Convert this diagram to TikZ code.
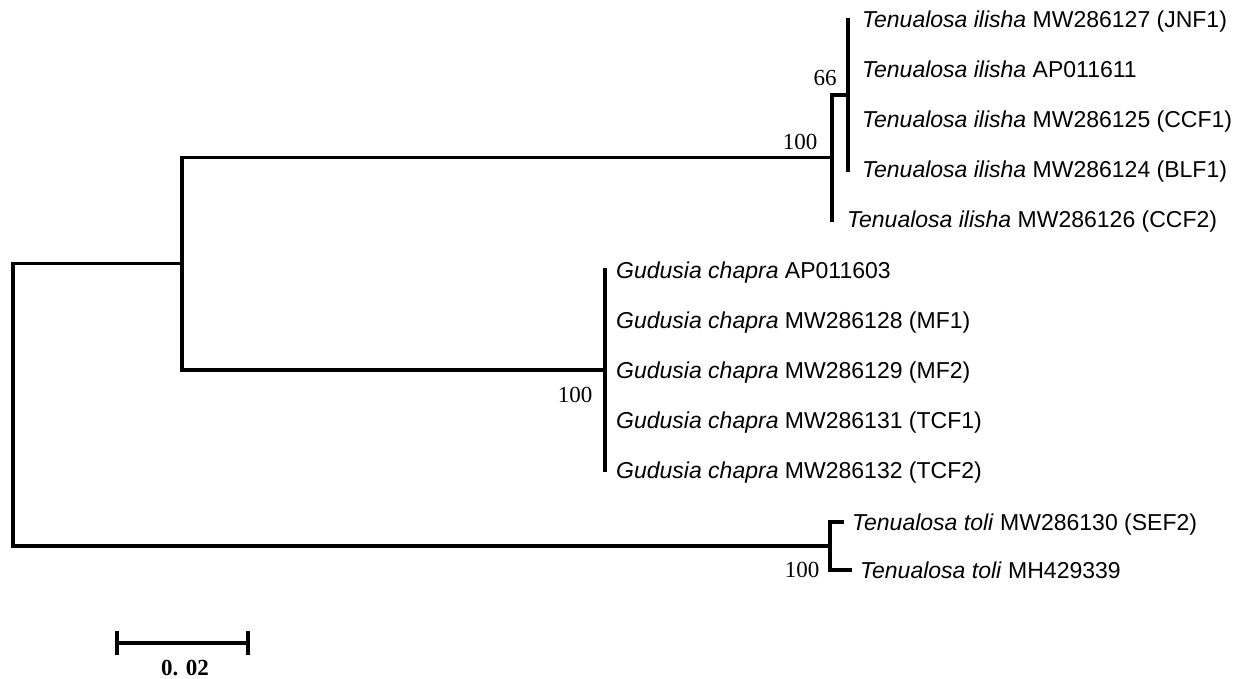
\documentclass[tikz,border=0pt]{standalone}
\usepackage{fontspec}
\setmainfont{Liberation Sans}
\newfontfamily\numfont{Liberation Serif}
\usetikzlibrary{calc}
\tikzset{
  branch/.style={line width=3.2pt, line join=miter, line cap=rect},
  lbl/.style={inner sep=0pt, anchor=base west, font=\fontsize{23}{26}\selectfont},
  boot/.style={inner sep=0pt, font=\numfont\fontsize{23}{26}\selectfont},
}
\begin{document}
\begin{tikzpicture}[x=1pt,y=-1pt]
\useasboundingbox (0,0) rectangle (1234,679);
% internal nodes
\coordinate (root) at (13,404.5);
\coordinate (n1) at (182,263.75);
\coordinate (nT) at (832,157.5);
\coordinate (nT2) at (848,95);
\coordinate (nG) at (605,370);
\coordinate (nTo) at (830,546);
% tips
\coordinate (t1) at (848,20);
\coordinate (t2) at (848,70);
\coordinate (t3) at (848,120);
\coordinate (t4) at (848,170);
\coordinate (t5) at (832,220);
\coordinate (g1) at (605,270);
\coordinate (g2) at (605,320);
\coordinate (g3) at (605,370);
\coordinate (g4) at (605,420);
\coordinate (g5) at (605,470);
\coordinate (s1) at (842,522);
\coordinate (s2) at (850,570);
% branches
\draw[branch] (root) |- (n1);
\draw[branch] (root) |- (nTo);
\draw[branch] (n1) |- (nT);
\draw[branch] (n1) |- (nG);
\draw[branch] (nT) |- (nT2);
\draw[branch] (nT) |- (t5);
\draw[branch] (nT2) |- (t1);
\draw[branch] (nT2) |- (t4);
\draw[branch] (nG) |- (g1);
\draw[branch] (nG) |- (g5);
\draw[branch] (nTo) |- (s1);
\draw[branch] (nTo) |- (s2);
% labels
\node[lbl] (L1) at ($(t1)+(14,8)$) {\textit{Tenualosa ilisha} MW286127 (JNF1)};
\node[lbl] (L2) at ($(t2)+(14,8)$) {\textit{Tenualosa ilisha} AP011611};
\node[lbl] (L3) at ($(t3)+(14,8)$) {\textit{Tenualosa ilisha} MW286125 (CCF1)};
\node[lbl] (L4) at ($(t4)+(14,8)$) {\textit{Tenualosa ilisha} MW286124 (BLF1)};
\node[lbl] (L5) at ($(t5)+(15,8)$) {\textit{Tenualosa ilisha} MW286126 (CCF2)};
\node[lbl] (G1) at ($(g1)+(11,8)$) {\textit{Gudusia chapra} AP011603};
\node[lbl] (G2) at ($(g2)+(11,8)$) {\textit{Gudusia chapra} MW286128 (MF1)};
\node[lbl] (G3) at ($(g3)+(11,8)$) {\textit{Gudusia chapra} MW286129 (MF2)};
\node[lbl] (G4) at ($(g4)+(11,8)$) {\textit{Gudusia chapra} MW286131 (TCF1)};
\node[lbl] (G5) at ($(g5)+(11,8)$) {\textit{Gudusia chapra} MW286132 (TCF2)};
\node[lbl] (S1) at ($(s1)+(10,8)$) {\textit{Tenualosa toli} MW286130 (SEF2)};
\node[lbl] (S2) at ($(s2)+(10,8)$) {\textit{Tenualosa toli} MH429339};
% bootstrap
\node[boot] (b66) at (825,78) {66};
\node[boot] (bT) at (800,142) {100};
\node[boot] (bG) at (575,395) {100};
\node[boot] (bS) at (802,570) {100};
% scale bar
\coordinate (sb1) at (117,643);
\coordinate (sb2) at (248,643);
\draw[branch] (sb1) -- (sb2);
\draw[branch] ($(sb1)+(0,-10)$) -- ($(sb1)+(0,10)$);
\draw[branch] ($(sb2)+(0,-10)$) -- ($(sb2)+(0,10)$);
\node[boot,font=\numfont\bfseries\fontsize{23}{26}\selectfont] (sbl) at (185,668) {0. 02};
\end{tikzpicture}
\end{document}
